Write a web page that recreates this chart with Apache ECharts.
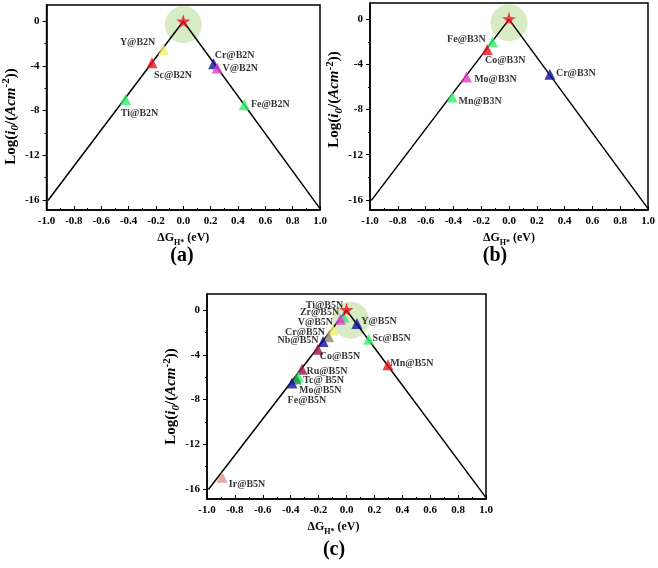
<!DOCTYPE html>
<html><head><meta charset="utf-8">
<script src="https://cdn.jsdelivr.net/npm/echarts@6/dist/echarts.min.js"></script>
<style>html,body{margin:0;padding:0;background:#fff}#c{width:658px;height:568px}</style>
</head><body><div id="c"></div>
<script>
// ---- data ----
const yTicks = [-16, -12, -8, -4, 0];
const yMinorTicks = [-14, -10, -6, -2];
const volcanoX = [-0.99, 0, 1.0];
const volcanoY = [-16.05, 0, -16.78];

const aNames = ['Y@B2N', 'Sc@B2N', 'Ti@B2N', 'Cr@B2N', 'V@B2N', 'Fe@B2N'];
const aX = [-0.144, -0.229, -0.422, 0.222, 0.248, 0.446];
const aY = [-2.54, -3.73, -7.0, -3.82, -4.18, -7.47];
const aStar = [0, 0];
const aCircle = [0, -0.3];

const bNames = ['Fe@B3N', 'Co@B3N', 'Mo@B3N', 'Mn@B3N', 'Cr@B3N'];
const bX = [-0.119, -0.157, -0.306, -0.409, 0.294];
const bY = [-1.99, -2.67, -5.1, -6.88, -4.86];
const bStar = [0, 0.05];
const bCircle = [0, -0.3];

const cNames = ['Zr@B5N', 'V@B5N', 'Y@B5N', 'Cr@B5N', '', 'Nb@B5N', 'Co@B5N', 'Sc@B5N', 'Mn@B5N', 'Ru@B5N', 'Tc@ B5N', 'Mo@B5N', 'Fe@B5N', 'Ir@B5N'];
const cX = [-0.021, -0.044, 0.075, -0.097, -0.128, -0.168, -0.205, 0.159, 0.297, -0.319, -0.343, -0.36, -0.391, -0.892];
const cY = [-0.6, -0.8, -1.18, -1.78, -2.37, -2.8, -3.5, -2.6, -4.89, -5.28, -5.98, -6.16, -6.52, -14.96];
const cStarName = 'Ti@B5N';
const cStar = [0, 0.05];
const cCircle = [0.03, -0.9];

// ---- styles ----
const FONT = "'Liberation Serif', 'Times New Roman', serif";
const YEL = '#f4ef6a', RED = '#e8101c', GRN = '#34ef6a', BLU = '#10109a', MAG = '#e23cc4',
      MAR = '#9c1346', OLV = '#8c8c64', DGR = '#1e9040', TAN = '#d8978a', TEAL = '#30e08a';
const aColors = [YEL, RED, GRN, BLU, MAG, GRN];
const aOffsets = [[-26, -7], [21, 13], [14, 14], [21, -8], [23, 1], [26, 0]];
const bColors = [GRN, RED, MAG, GRN, BLU];
const bOffsets = [[-26, -2], [18, 11], [29, 3], [28, 4], [26, -1]];
const cColors = [TEAL, MAG, BLU, YEL, OLV, BLU, MAR, GRN, RED, MAR, GRN, DGR, BLU, TAN];
const cOffsets = [[-24, -4], [-25, 3], [22, -2], [-28, 2], [0, 0], [-25, -1], [22, 7], [23, -1], [24, -1], [25, 2], [25, 3], [24, 11], [15, 17], [25, 7]];

const grids = [
  {left: 43, top: 5, width: 277, height: 205},
  {left: 370, top: 3, width: 278, height: 207},
  {left: 207, top: 294, width: 279, height: 205}
];
const yNamePad = [[0, 18, 0, 0], [0, 0, 0, 14], [0, 0, 0, 0]];
const YMIN = -16.9, YMAX = 1.45;
const STAR = 'path://M50,0 L61,35 L98,35 L68,57 L79,91 L50,70 L21,91 L32,57 L2,35 L39,35 Z';

const labelBase = {show: true, position: 'inside', color: '#000', fontFamily: FONT, fontWeight: 'bold', fontSize: 10};

function panelSeries(i, names, xs, ys, colors, offsets, star, starName, starOff, circle) {
  const s = [];
  s.push({type: 'scatter', xAxisIndex: i, yAxisIndex: 2 * i, silent: true, z: 1,
    symbol: 'circle', symbolSize: 37, itemStyle: {color: 'rgba(165,212,120,0.55)'},
    data: [circle]});
  s.push({type: 'line', xAxisIndex: i, yAxisIndex: 2 * i, silent: true, z: 2, showSymbol: false,
    lineStyle: {color: '#000', width: 1.5}, data: volcanoX.map((x, k) => [x, volcanoY[k]])});
  s.push({type: 'scatter', xAxisIndex: i, yAxisIndex: 2 * i, z: 3, symbol: 'triangle', symbolSize: 11,
    data: names.map((n, k) => ({name: n, value: [xs[k], ys[k]], itemStyle: {color: colors[k]},
      label: Object.assign({}, labelBase, {formatter: n, offset: offsets[k], show: n !== ''})}))});
  s.push({type: 'scatter', xAxisIndex: i, yAxisIndex: 2 * i, z: 4, symbol: STAR, symbolSize: 14,
    itemStyle: {color: RED},
    data: [{name: starName, value: star,
      label: Object.assign({}, labelBase, {formatter: starName, offset: starOff, show: starName !== ''})}]});
  return s;
}

const xAxes = grids.map((g, i) => ({
  type: 'value', gridIndex: i, min: -1, max: 1, interval: 0.2,
  name: '{m|ΔG}{s|H*}{m| (eV)}', nameLocation: 'middle', nameGap: 19,
  nameTextStyle: {padding: i === 2 ? [0, 26, 0, 0] : 0, rich: {
    m: {fontFamily: FONT, fontWeight: 'bold', fontSize: 12, lineHeight: 18, color: '#000'},
    s: {fontFamily: FONT, fontWeight: 'bold', fontSize: 8, lineHeight: 8, verticalAlign: 'bottom', color: '#000'}}},
  axisLine: {onZero: false, lineStyle: {color: '#000', width: 1.5}},
  axisTick: {inside: true, length: 4, lineStyle: {color: '#000', width: 1}},
  minorTick: {show: true, splitNumber: 2, length: 2, lineStyle: {color: '#000', width: 1}},
  axisLabel: {formatter: v => v.toFixed(1), color: '#000', fontFamily: FONT, fontWeight: 'bold', fontSize: 11, margin: 6},
  splitLine: {show: false}
}));

const yAxes = [];
grids.forEach((g, i) => {
  yAxes.push({
    type: 'value', gridIndex: i, min: YMIN, max: YMAX, position: 'left',
    name: '{m|Log(}{i|i}{s|0}{m|/(}{i|Acm}{p|-2}{m|))}', nameLocation: 'middle', nameGap: 22, nameRotate: 90,
    nameTextStyle: {padding: yNamePad[i], rich: {
      m: {fontFamily: FONT, fontWeight: 'bold', fontSize: 15, lineHeight: 20, color: '#000'},
      i: {fontFamily: FONT, fontWeight: 'bold', fontStyle: 'italic', fontSize: 15, lineHeight: 20, color: '#000'},
      s: {fontFamily: FONT, fontWeight: 'bold', fontStyle: 'italic', fontSize: 11, lineHeight: 10, verticalAlign: 'bottom', color: '#000'},
      p: {fontFamily: FONT, fontWeight: 'bold', fontSize: 11, lineHeight: 10, verticalAlign: 'top', color: '#000'}}},
    axisLine: {onZero: false, lineStyle: {color: '#000', width: 1.5}},
    axisTick: {length: 4, customValues: yTicks, lineStyle: {color: '#000', width: 1}},
    axisLabel: {customValues: yTicks, color: '#000', fontFamily: FONT, fontWeight: 'bold', fontSize: 11, margin: 7},
    splitLine: {show: false}
  });
  yAxes.push({
    type: 'value', gridIndex: i, min: YMIN, max: YMAX, position: 'left', offset: 0,
    axisLine: {show: false, onZero: false}, axisLabel: {show: false}, splitLine: {show: false},
    axisTick: {show: true, length: 2, customValues: yMinorTicks, lineStyle: {color: '#000', width: 1}}
  });
});

const series = [].concat(
  panelSeries(0, aNames, aX, aY, aColors, aOffsets, aStar, '', [0, 0], aCircle),
  panelSeries(1, bNames, bX, bY, bColors, bOffsets, bStar, '', [0, 0], bCircle),
  panelSeries(2, cNames, cX, cY, cColors, cOffsets, cStar, cStarName, [-22, -4], cCircle)
);

const panelText = (t, x, y) => ({type: 'text', x: x, y: y,
  style: {text: t, fill: '#000', font: 'bold 20px ' + FONT, textAlign: 'center', textVerticalAlign: 'middle', align: 'center', verticalAlign: 'middle'}});

const chart = echarts.init(document.getElementById('c'), null, {renderer: 'canvas'});
chart.setOption({
  animation: false,
  backgroundColor: '#fff',
  grid: grids.map(g => Object.assign({show: true, borderColor: '#000', borderWidth: 1.5, backgroundColor: 'transparent'}, g)),
  xAxis: xAxes,
  yAxis: yAxes,
  series: series,
  graphic: [panelText('(a)', 182, 256), panelText('(b)', 495, 256), panelText('(c)', 334, 550)]
});
</script></body></html>
